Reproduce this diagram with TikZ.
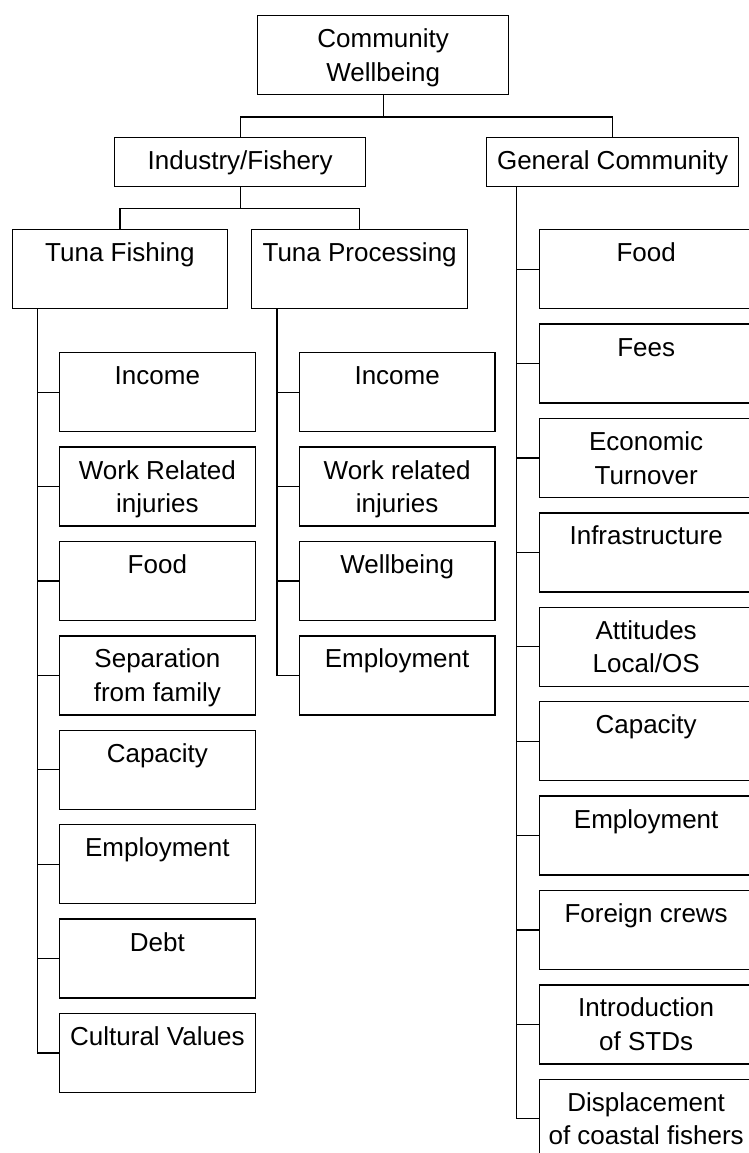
\documentclass[tikz,border=0pt]{standalone}
\usepackage{fontspec}
\setmainfont{Liberation Sans}
\usetikzlibrary{calc}
\tikzset{
  box/.style={draw, rectangle, inner sep=0pt, line width=1.3pt},
  txt/.style={anchor=north, inner sep=0pt, align=center, font=\fontsize{26}{33.5}\selectfont},
  conn/.style={line width=1.3pt}
}
\newcommand\mybox[6]{%
  \node[box, minimum width=#4pt, minimum height=#5pt, anchor=north west] (#1) at (#2,#3) {};
  \node[txt] (#1t) at (#1.north) {\rule{0pt}{32.5pt}#6};}
\begin{document}
\begin{tikzpicture}[x=1pt,y=-1pt]
\useasboundingbox (0,0) rectangle (749,1153);
% top levels
\mybox{cw}{257}{15}{251}{79}{Community\\Wellbeing}
\mybox{ind}{114}{137}{251}{49}{Industry/Fishery}
\mybox{gen}{486}{137}{252}{49}{General Community}
\mybox{tf}{11.5}{229}{215.5}{79}{Tuna Fishing}
\mybox{tp}{251}{229}{216}{79}{Tuna Processing}
% tuna fishing children
\mybox{f1}{58.7}{352}{196}{79}{Income}
\mybox{f2}{58.7}{446.4}{196}{79}{Work Related\\injuries}
\mybox{f3}{58.7}{540.8}{196}{79}{Food}
\mybox{f4}{58.7}{635.2}{196}{79}{Separation\\from family}
\mybox{f5}{58.7}{729.6}{196}{79}{Capacity}
\mybox{f6}{58.7}{824}{196}{79}{Employment}
\mybox{f7}{58.7}{918.4}{196}{79}{Debt}
\mybox{f8}{58.7}{1012.8}{196}{79}{Cultural Values}
% tuna processing children
\mybox{p1}{298.7}{352}{195.6}{79}{Income}
\mybox{p2}{298.7}{446.4}{195.6}{79}{Work related\\injuries}
\mybox{p3}{298.7}{540.8}{195.6}{79}{Wellbeing}
\mybox{p4}{298.7}{635.2}{195.6}{79}{Employment}
% general community children
\mybox{g1}{538.7}{229}{213.6}{79}{Food}
\mybox{g2}{538.7}{323.4}{213.6}{79}{Fees}
\mybox{g3}{538.7}{417.8}{213.6}{79}{Economic\\Turnover}
\mybox{g4}{538.7}{512.2}{213.6}{79}{Infrastructure}
\mybox{g5}{538.7}{606.6}{213.6}{79}{Attitudes\\Local/OS}
\mybox{g6}{538.7}{701}{213.6}{79}{Capacity}
\mybox{g7}{538.7}{795.4}{213.6}{79}{Employment}
\mybox{g8}{538.7}{889.8}{213.6}{79}{Foreign crews}
\mybox{g9}{538.7}{984.2}{213.6}{79}{Introduction\\of STDs}
\mybox{g10}{538.7}{1078.6}{213.6}{79}{Displacement\\of coastal fishers}
% connectors
\draw[conn] (cw.south) -- ++(0,21.7) -| (ind.north);
\draw[conn] (cw.south) -- ++(0,21.7) -| (gen.north);
\draw[conn] (ind.south) -- ++(0,21) -| (tf.north);
\draw[conn] (ind.south) -- ++(0,21) -| (tp.north);
\coordinate (tfs) at ($(tf.south west)+(25.8,0)$);
\coordinate (tps) at ($(tp.south west)+(26,0)$);
\coordinate (gs) at ($(gen.south west)+(30.5,0)$);
\draw[conn] (tfs) |- (f8.west);
\foreach \n in {f1,f2,f3,f4,f5,f6,f7} \draw[conn] (\n.west) -- (\n.west -| tfs);
\draw[conn] (tps) |- (p4.west);
\foreach \n in {p1,p2,p3} \draw[conn] (\n.west) -- (\n.west -| tps);
\draw[conn] (gs) |- (g10.west);
\foreach \n in {g1,g2,g3,g4,g5,g6,g7,g8,g9} \draw[conn] (\n.west) -- (\n.west -| gs);
\end{tikzpicture}
\end{document}
